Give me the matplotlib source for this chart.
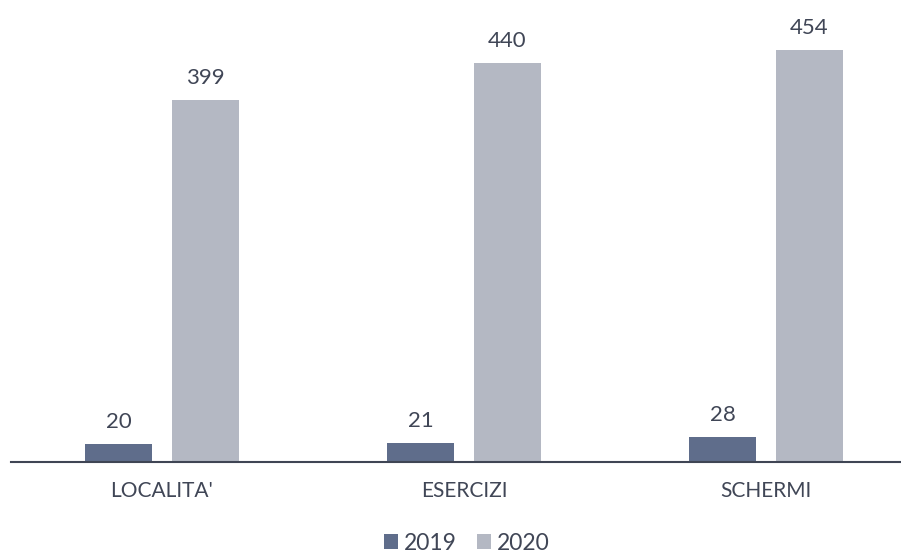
import matplotlib
matplotlib.use("Agg")
import matplotlib.pyplot as plt
import numpy as np

categories = ["LOCALITA'", "ESERCIZI", "SCHERMI"]
series_names = ["2019", "2020"]
values_2019 = [20, 21, 28]
values_2020 = [399, 440, 454]

c2019 = "#5f6d8b"
c2020 = "#b4b8c3"
txt = "#404656"

plt.rcParams['font.family'] = ['Lato', 'DejaVu Sans']

fig = plt.figure(figsize=(9.01, 5.56), dpi=100)
px_per_unit = 412 / 454
ymax = 500
ax_h = ymax * px_per_unit
ax = fig.add_axes([11 / 901, (556 - 462) / 556, 906 / 901, ax_h / 556])

x = np.arange(len(categories))
w = 0.222
off = 0.143
b1 = ax.bar(x - off, values_2019, width=w, color=c2019, label=series_names[0])
b2 = ax.bar(x + off, values_2020, width=w, color=c2020, label=series_names[1])

for bars in (b1, b2):
    for r in bars:
        ax.text(r.get_x() + r.get_width() / 2, r.get_height() + 13, f"{int(r.get_height())}",
                ha="center", va="bottom", fontsize=16, color=txt)

ax.set_xlim(-0.5, 2.5)
ax.set_ylim(0, ymax)
ax.set_xticks(x)
ax.set_xticklabels(categories, fontsize=15, color=txt)
ax.tick_params(axis='x', length=0, pad=14)
ax.set_yticks([])
for s in ["top", "right", "left"]:
    ax.spines[s].set_visible(False)
ax.spines["bottom"].set_color("#3f4554")
ax.spines["bottom"].set_linewidth(1.5)

leg = fig.legend(handles=[b1, b2], labels=series_names, loc="center", bbox_to_anchor=(467 / 901, 1 - 543 / 556),
                 ncol=2, frameon=False, fontsize=16.5, handlelength=0.6, handleheight=0.6,
                 handletextpad=0.25, columnspacing=0.9, labelcolor=txt)

fig.savefig("out.png", dpi=100)
